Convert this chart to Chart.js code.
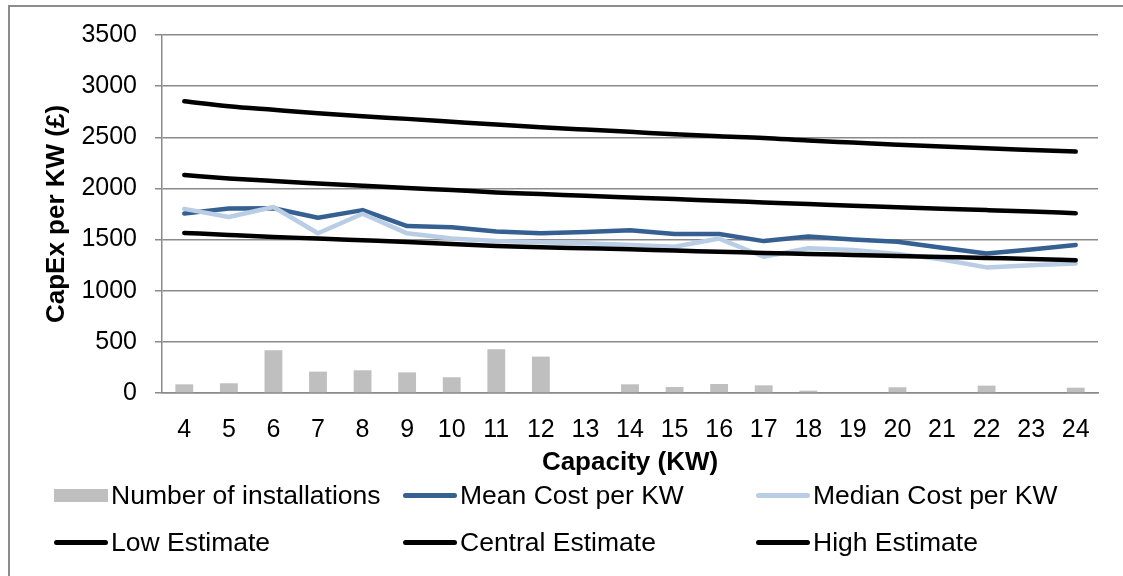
<!DOCTYPE html>
<html>
<head>
<meta charset="utf-8">
<script src="https://cdn.jsdelivr.net/npm/chart.js@4"></script>
<style>
    body { margin: 0; background: #fff; }
    #wrap { position: relative; width: 1123px; height: 576px; overflow: hidden; font-family: "Liberation Sans", Arial, sans-serif; }
    #frame { position: absolute; left: 8px; top: 5px; width: 1200px; height: 700px; border-left: 2px solid #8c8c8c; border-top: 2px solid #8c8c8c; }
    #legend { position: absolute; left: 0; top: 0; width: 1123px; height: 576px; pointer-events: none; }
    .item { position: absolute; height: 30px; display: flex; align-items: center; font-size: 26.5px; color: #000; white-space: nowrap; }
    .sym { width: 54px; margin-right: 3px; }
</style>
</head>
<body>
<div id="wrap">
    <div id="frame"></div>
    <canvas id="capexChart" width="1123" height="576"></canvas>
    <div id="legend"></div>
</div>
<script>
// categories (capacity in KW)
const capacity = ['4', '5', '6', '7', '8', '9', '10', '11', '12', '13', '14', '15', '16', '17', '18', '19', '20', '21', '22', '23', '24'];

// values
const installations = [85, 95, 418, 209, 222, 202, 154, 428, 356, null, 85, 59, 88, 75, 23, null, 56, null, 72, null, 52];
const meanCost = [1755, 1804, 1806, 1713, 1788, 1632, 1620, 1580, 1563, 1575, 1592, 1555, 1555, 1485, 1529, 1500, 1478, 1420, 1363, 1402, 1447];
const medianCost = [1800, 1721, 1819, 1562, 1753, 1561, 1510, 1485, 1475, 1465, 1448, 1430, 1510, 1332, 1415, 1398, 1360, 1305, 1228, 1248, 1266];
const lowEstimate = [1565, 1545, 1526, 1510, 1493, 1476, 1457, 1437, 1425, 1415, 1405, 1392, 1382, 1369, 1360, 1350, 1340, 1330, 1320, 1311, 1298];
const centralEstimate = [2131, 2098, 2072, 2049, 2026, 2004, 1984, 1961, 1945, 1928, 1912, 1896, 1879, 1863, 1847, 1830, 1817, 1801, 1788, 1774, 1758];
const highEstimate = [2853, 2804, 2769, 2735, 2706, 2680, 2652, 2624, 2598, 2575, 2553, 2529, 2510, 2494, 2468, 2448, 2428, 2409, 2392, 2376, 2360];

const yTicks = [0, 500, 1000, 1500, 2000, 2500, 3000, 3500];

document.addEventListener("DOMContentLoaded", function () {
    const font = '"Liberation Sans", Arial, sans-serif';

    const lineSet = (label, data, color, order, smooth) => ({
        type: 'line',
        label: label,
        data: data,
        borderColor: color,
        backgroundColor: color,
        borderWidth: 4.5,
        borderCapStyle: 'round',
        borderJoinStyle: 'round',
        pointRadius: 0,
        cubicInterpolationMode: smooth ? 'monotone' : 'default',
        tension: 0,
        order: order
    });

    const datasets = [
        {
            type: 'bar',
            label: 'Number of installations',
            data: installations,
            backgroundColor: '#BFBFBF',
            borderWidth: 0,
            barPercentage: 0.4,
            categoryPercentage: 1,
            order: 6
        },
        lineSet('Mean Cost per KW', meanCost, '#376092', 5, false),
        lineSet('Median Cost per KW', medianCost, '#B9CDE5', 4, false),
        lineSet('Low Estimate', lowEstimate, '#000000', 3, true),
        lineSet('Central Estimate', centralEstimate, '#000000', 2, true),
        lineSet('High Estimate', highEstimate, '#000000', 1, true)
    ];

    new Chart(document.getElementById('capexChart').getContext('2d'), {
        type: 'bar',
        data: { labels: capacity, datasets: datasets },
        options: {
            responsive: false,
            animation: false,
            layout: { padding: { left: 30, top: 35, right: 25, bottom: 100 } },
            plugins: {
                legend: { display: false },
                tooltip: { enabled: false }
            },
            scales: {
                x: {
                    offset: true,
                    grid: { display: false },
                    border: { display: true, color: '#8a8a8a', width: 1.5 },
                    ticks: { color: '#000', padding: 14, maxRotation: 0, autoSkip: false, font: { family: font, size: 25 } },
                    title: { display: true, text: 'Capacity (KW)', color: '#000', padding: 0, font: { family: font, size: 26, weight: 'bold', lineHeight: 1 } },
                    afterFit: (scale) => { scale.height = 83; }
                },
                y: {
                    min: 0,
                    max: 3500,
                    afterBuildTicks: (scale) => { scale.ticks = yTicks.map(v => ({ value: v })); },
                    grid: { color: '#8a8a8a', lineWidth: 1.5, tickLength: 7, drawTicks: true },
                    border: { display: true, color: '#8a8a8a', width: 1.5 },
                    ticks: { color: '#000', padding: 18, font: { family: font, size: 25 }, callback: (v) => String(v) },
                    title: { display: true, text: 'CapEx per KW (£)', color: '#000', padding: { top: 14, bottom: 0 }, font: { family: font, size: 26, weight: 'bold', lineHeight: 1 } },
                    afterFit: (scale) => { scale.width = 132; }
                }
            }
        }
    });

    // legend laid out in the same three columns as the reference
    const legendCols = [54, 403, 756];
    const legendRows = [495, 542];
    const legend = document.getElementById('legend');
    datasets.forEach((ds, i) => {
        const item = document.createElement('div');
        item.className = 'item';
        item.style.left = legendCols[i % 3] + 'px';
        item.style.top = (legendRows[Math.floor(i / 3)] - 15) + 'px';
        const sym = document.createElement('span');
        sym.className = 'sym';
        if (ds.type === 'bar') {
            sym.style.height = '13px';
            sym.style.background = ds.backgroundColor;
        } else {
            sym.style.height = '5px';
            sym.style.borderRadius = '3px';
            sym.style.background = ds.borderColor;
        }
        item.appendChild(sym);
        item.appendChild(document.createTextNode(ds.label));
        legend.appendChild(item);
    });
});
</script>
</body>
</html>
